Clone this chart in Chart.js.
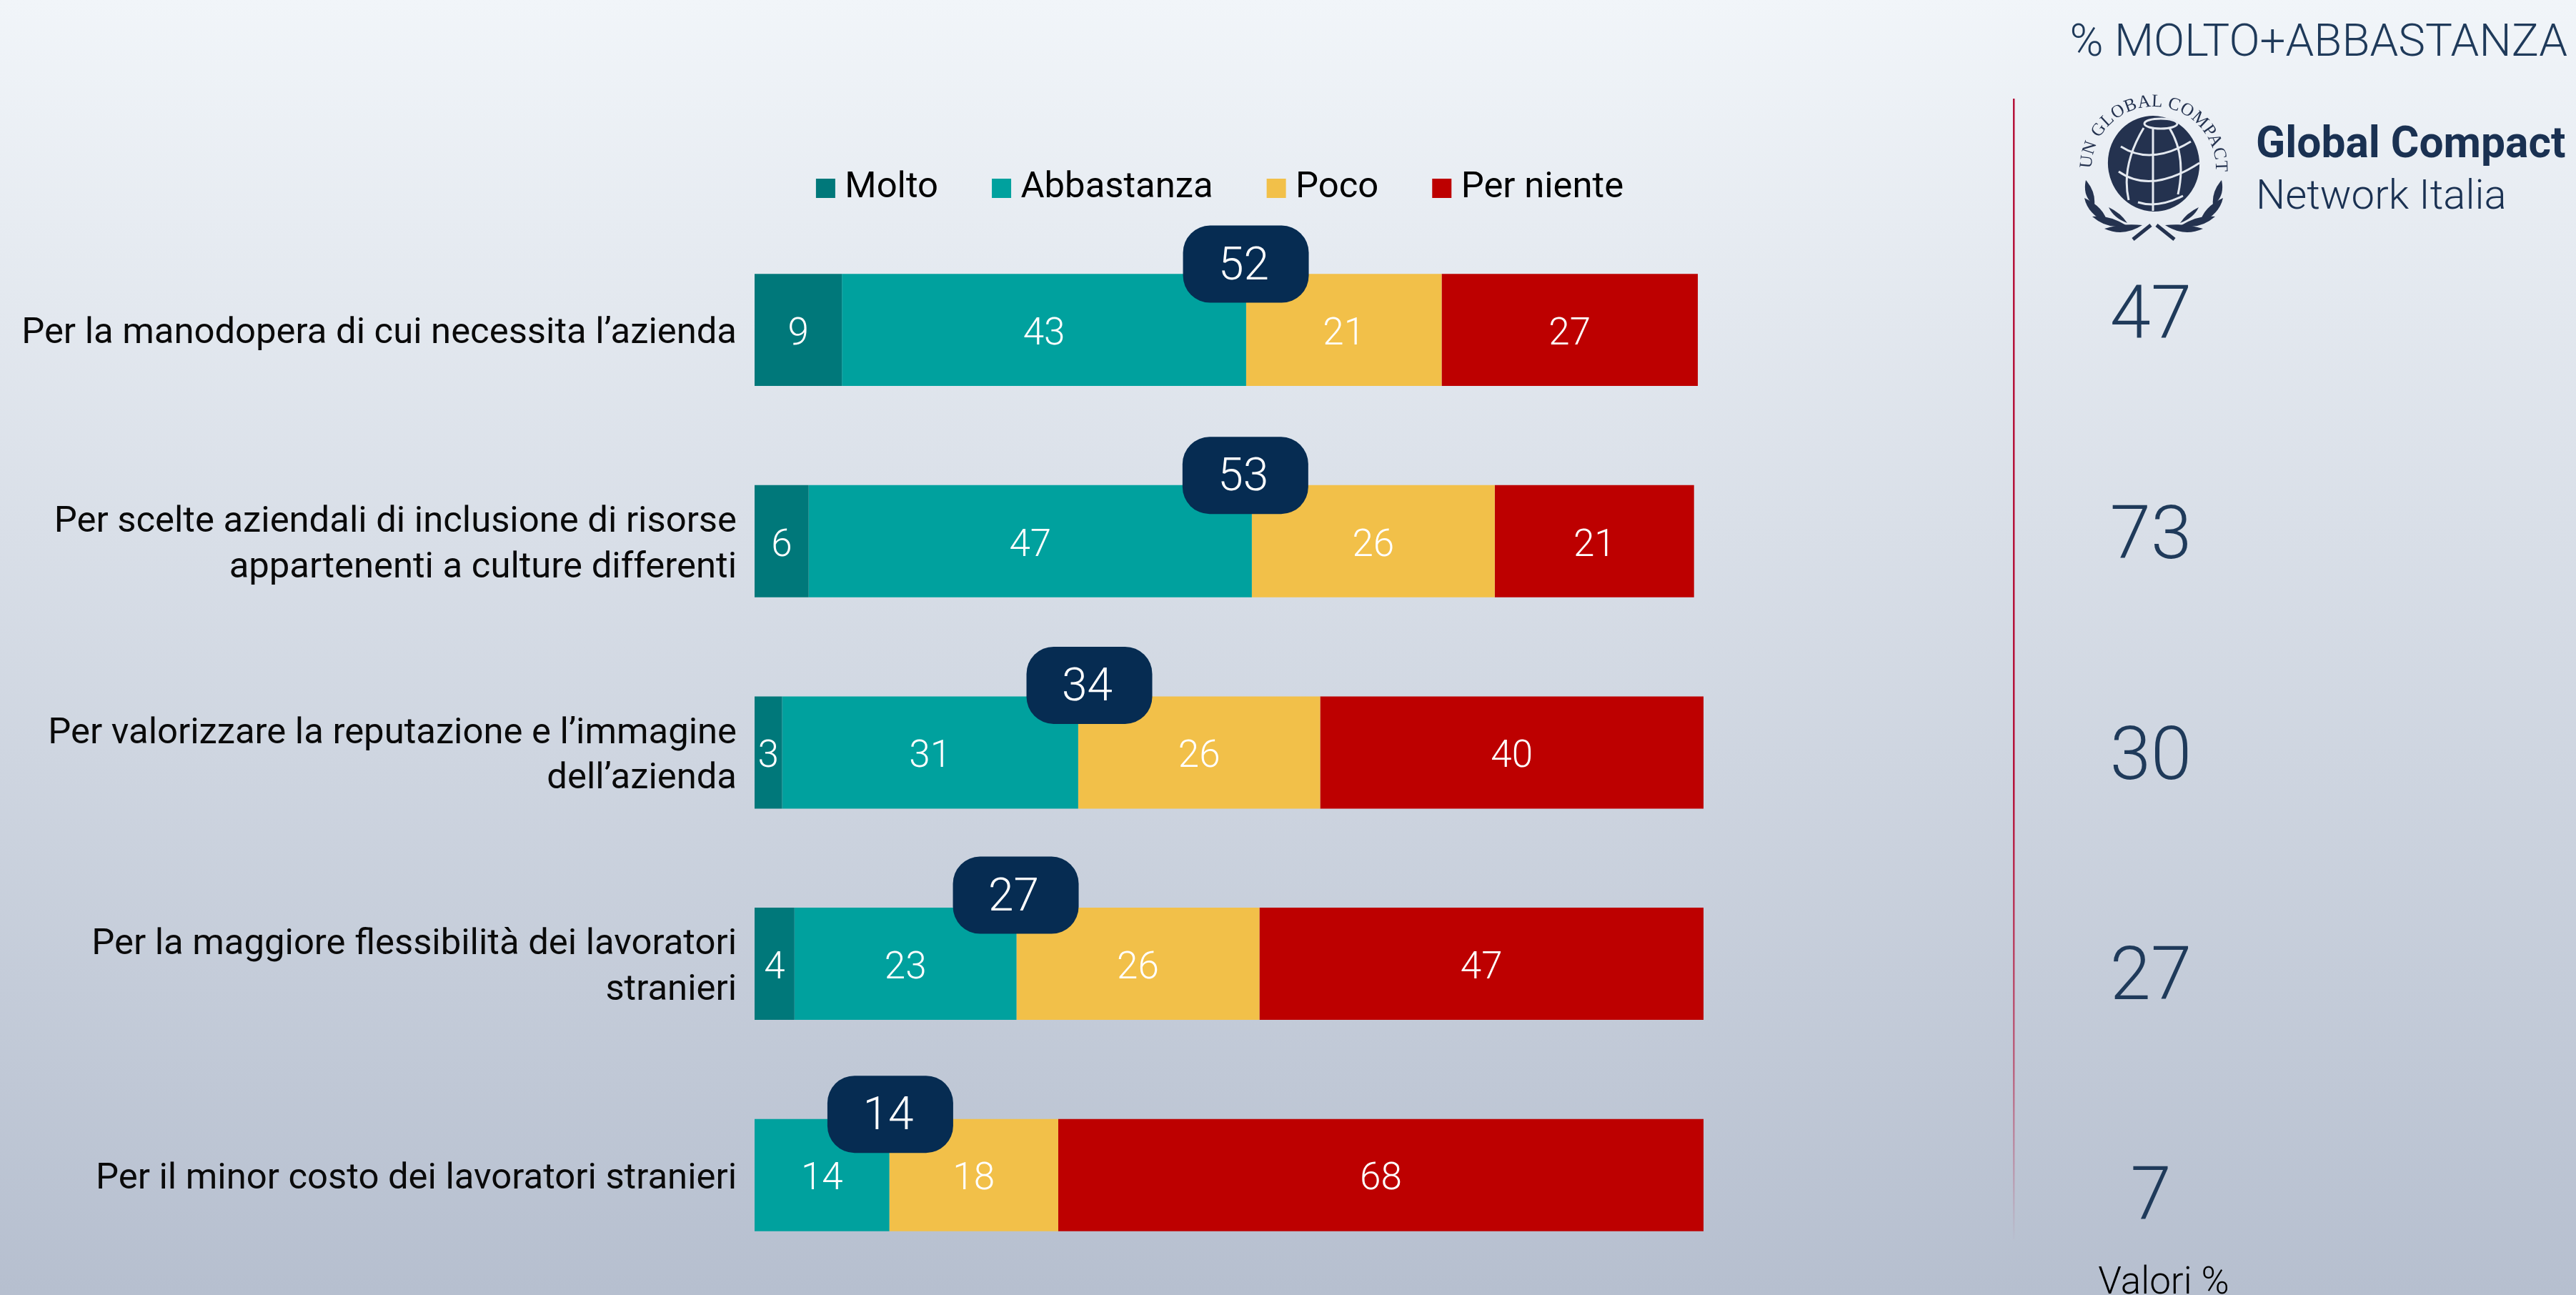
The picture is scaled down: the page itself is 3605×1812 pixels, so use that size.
<!DOCTYPE html>
<html lang="it">
<head>
    <meta charset="UTF-8">
    <title>Molto + Abbastanza</title>
    <script src="https://cdn.jsdelivr.net/npm/chart.js"></script>
    <style>
        html, body { margin: 0; padding: 0; width: 3605px; height: 1812px; overflow: hidden; }
        body { position: relative; background: linear-gradient(180deg, #f1f5f9 0%, #b6bfcf 100%); }
        canvas, svg { position: absolute; left: 0; top: 0; }
    </style>
</head>
<body>
    <canvas id="chart" width="3605" height="1812"></canvas>
    <svg width="3605" height="1812" viewBox="0 0 3605 1812">
        <defs>
            <path id="arc" d="M2927 236 A87 87 0 1 1 3101 236"/>
            <g id="branch" fill="#24324f">
                <path d="M2931 287 Q2933 268 2919 252 Q2914 275 2931 287Z"/>
                <path d="M2949 312 Q2945 290 2917 277 Q2922 300 2949 312Z"/>
                <path d="M2977 312 Q2968 298 2951 290 Q2958 305 2977 312Z"/>
                <path d="M2975 315 Q2950 300 2928 303 Q2950 322 2975 315Z"/>
                <path d="M2998 315 Q2970 312 2945 320 Q2972 332 2998 315Z"/>
                <path d="M2985 335 L3010 315" stroke="#24324f" stroke-width="5" fill="none"/>
            </g>
        </defs>
        <text font-family="'Liberation Serif'" font-size="25" fill="#24324f" letter-spacing="0.6"><textPath href="#arc">UN GLOBAL COMPACT</textPath></text>
        <ellipse cx="3014" cy="229" rx="64" ry="67" fill="#24324f" transform="rotate(-10 3014 229)"/>
        <g fill="none" stroke="#e4e9f0" stroke-width="3">
            <ellipse cx="3024" cy="173" rx="23" ry="7"/>
            <path d="M3013 180 V295"/>
            <path d="M3000 179 Q2968 232 2979 280"/>
            <path d="M3036 179 Q3060 218 3048 272"/>
            <path d="M2968 205 Q3010 232 3066 198"/>
            <path d="M2965 240 Q3010 272 3078 228"/>
            <path d="M2992 283 Q3020 292 3055 274"/>
        </g>
        <use href="#branch"/>
        <use href="#branch" transform="translate(6028 0) scale(-1 1)"/>
    </svg>
    <script>
        const categories = [
            ['Per la manodopera di cui necessita l\u2019azienda'],
            ['Per scelte aziendali di inclusione di risorse', 'appartenenti a culture differenti'],
            ['Per valorizzare la reputazione e l\u2019immagine', 'dell\u2019azienda'],
            ['Per la maggiore flessibilit\u00e0 dei lavoratori', 'stranieri'],
            ['Per il minor costo dei lavoratori stranieri']
        ];
        const molto = [9.2, 5.7, 2.9, 4.2, 0];
        const abbastanza = [42.6, 46.7, 31.2, 23.4, 14.2];
        const poco = [20.6, 25.6, 25.5, 25.6, 17.8];
        const perNiente = [27.0, 21.0, 40.4, 46.8, 68.0];
        const netValues = [52, 53, 34, 27, 14];
        const summaryValues = [47, 73, 30, 27, 7];

        const FONT = 'Roboto';
        // badges do not sit exactly on their value in the original slide
        const badgeShiftX = [-3, -17, 17, 7, 4];
        const badgeShiftY = [0, 0, -2, -4, 7];

        const drawExtras = {
            id: 'drawExtras',
            afterLayout(chart) {
                chart.legend.top -= 15;
                chart.legend.bottom -= 15;
                chart.legend.left -= 7;
                chart.legend.right -= 7;
            },
            afterDatasetsDraw(chart) {
                const { ctx, scales: { x, y } } = chart;
                ctx.save();
                ctx.textAlign = 'center';
                ctx.textBaseline = 'middle';

                // numbers inside the bars
                ctx.fillStyle = '#ffffff';
                ctx.font = '300 53px ' + FONT;
                chart.data.datasets.forEach((ds, d) => {
                    chart.getDatasetMeta(d).data.forEach((bar, i) => {
                        if (ds.data[i] > 0) ctx.fillText(Math.round(ds.data[i]), (bar.base + bar.x) / 2, bar.y + 7);
                    });
                });

                // net badges
                netValues.forEach((v, i) => {
                    const cx = x.getPixelForValue(v) + badgeShiftX[i];
                    const cy = y.getPixelForValue(i) - 92 + badgeShiftY[i];
                    ctx.fillStyle = '#062c52';
                    ctx.beginPath();
                    ctx.roundRect(cx - 88, cy - 54, 176, 108, 38);
                    ctx.fill();
                    ctx.fillStyle = '#ffffff';
                    ctx.font = '300 64px ' + FONT;
                    ctx.fillText(v, cx - 3, cy + 5);
                });

                // right column
                const line = ctx.createLinearGradient(0, 138, 0, 1737);
                line.addColorStop(0, '#b5123a');
                line.addColorStop(0.6, '#b5123a');
                line.addColorStop(0.85, 'rgba(181,18,58,0.55)');
                line.addColorStop(1, 'rgba(181,18,58,0)');
                ctx.fillStyle = line;
                ctx.fillRect(2817, 138, 2.5, 1599);

                ctx.fillStyle = '#1f3a5a';
                ctx.font = '300 103px ' + FONT;
                summaryValues.forEach((v, i) => {
                    ctx.fillText(v, 3010, y.getPixelForValue(i) + (i - 2) * 12.6 + 11);
                });

                ctx.textBaseline = 'alphabetic';
                ctx.textAlign = 'right';
                ctx.font = '300 63.7px ' + FONT;
                ctx.fillText('% MOLTO+ABBASTANZA', 3593, 78);

                ctx.textAlign = 'left';
                ctx.fillStyle = '#1a3152';
                ctx.font = '700 60.5px ' + FONT;
                ctx.fillText('Global Compact', 3157, 220);
                ctx.font = '300 58px ' + FONT;
                ctx.fillText('Network Italia', 3157, 292);

                ctx.fillStyle = '#000000';
                ctx.textAlign = 'center';
                ctx.font = '300 53px ' + FONT;
                ctx.fillText('Valori %', 3028, 1810);
                ctx.restore();
            }
        };

        new Chart(document.getElementById('chart'), {
            type: 'bar',
            data: {
                labels: categories,
                datasets: [
                    { label: 'Molto', data: molto, backgroundColor: '#00787a' },
                    { label: 'Abbastanza', data: abbastanza, backgroundColor: '#00a19e' },
                    { label: 'Poco', data: poco, backgroundColor: '#f2c049' },
                    { label: 'Per niente', data: perNiente, backgroundColor: '#bd0000' }
                ]
            },
            options: {
                indexAxis: 'y',
                responsive: false,
                animation: false,
                devicePixelRatio: 1,
                datasets: { bar: { barPercentage: 0.531, categoryPercentage: 1 } },
                layout: { padding: { left: 0, top: 166, right: 1221, bottom: 20 } },
                scales: {
                    x: { stacked: true, min: 0, max: 100, display: false },
                    y: {
                        stacked: true,
                        afterFit(scale) {
                            scale.width = 1056;
                            scale.paddingTop = 0;
                            scale.paddingBottom = 0;
                        },
                        grid: { display: false, drawTicks: false },
                        border: { display: false },
                        ticks: {
                            autoSkip: false,
                            padding: 25,
                            labelOffset: 6,
                            color: '#0a0a0a',
                            font: { family: FONT, size: 50.8, weight: '400', lineHeight: 1.255 }
                        }
                    }
                },
                plugins: {
                    tooltip: { enabled: false },
                    legend: {
                        position: 'top',
                        fullSize: false,
                        labels: {
                            // point style keeps the square at full size but the text closer to it
                            usePointStyle: true,
                            pointStyle: 'rect',
                            boxWidth: 3,
                            boxHeight: 27,
                            padding: 87,
                            color: '#000000',
                            font: { family: FONT, size: 50.8, weight: '400' }
                        }
                    }
                }
            },
            plugins: [drawExtras]
        });
    </script>
</body>
</html>
